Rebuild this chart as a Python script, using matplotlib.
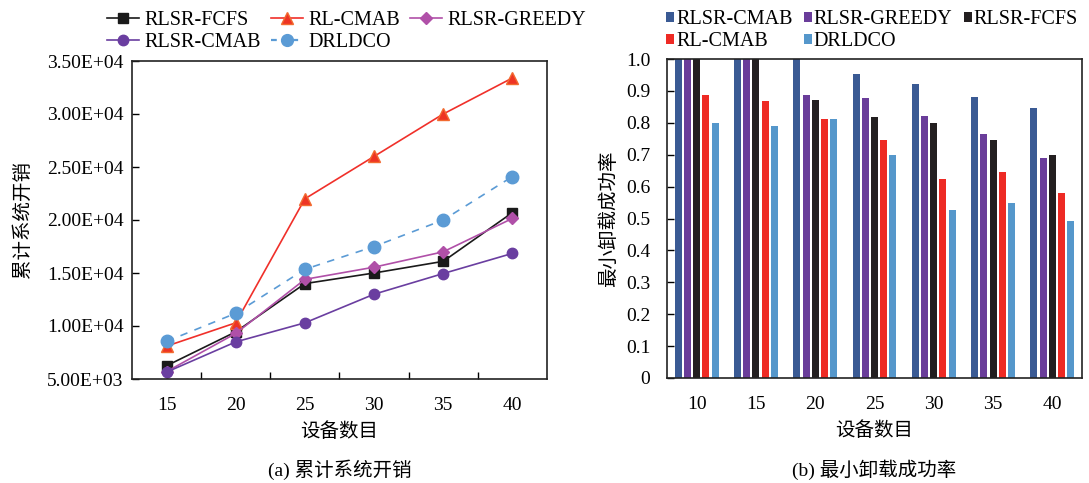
import numpy as np
import matplotlib
matplotlib.use("Agg")
import matplotlib.pyplot as plt
from matplotlib.ticker import FuncFormatter, MultipleLocator
from matplotlib.lines import Line2D

plt.rcParams['font.family'] = ['Liberation Serif', 'Noto Sans CJK SC']
plt.rcParams['axes.unicode_minus'] = False

# (a) cumulative system cost
devices_a = ["15", "20", "25", "30", "35", "40"]
fcfs_cost = [6250, 9450, 14000, 15000, 16100, 20700]
rlcmab_cost = [8100, 10300, 22000, 26000, 30000, 33400]
greedy_cost = [5700, 9300, 14400, 15550, 17000, 20150]
cmab_cost = [5650, 8500, 10300, 13000, 14950, 16850]
drldco_cost = [8550, 11200, 15350, 17500, 20000, 24100]

# (b) minimum offloading success rate
devices_b = ["10", "15", "20", "25", "30", "35", "40"]
cmab_rate = [1.0, 1.0, 1.0, 0.953, 0.922, 0.882, 0.847]
greedy_rate = [1.0, 1.0, 0.888, 0.879, 0.82, 0.765, 0.691]
fcfs_rate = [1.0, 1.0, 0.873, 0.819, 0.798, 0.747, 0.698]
rlcmab_rate = [0.888, 0.868, 0.811, 0.745, 0.625, 0.647, 0.58]
drldco_rate = [0.798, 0.789, 0.811, 0.699, 0.526, 0.548, 0.491]

fig = plt.figure(figsize=(10.89, 4.83), dpi=100)
W, H = 1089, 483

fs_tick = 14
fs_lab = 14
fs_leg = 14.5

# ---------- left: line chart ----------
ax1 = fig.add_axes([132 / W, (H - 379) / H, (547 - 132) / W, (379 - 61) / H])
x = np.arange(len(devices_a))
ax1.plot(x, fcfs_cost, color="#1a1a1a", lw=1.2, marker="s", ms=7.5,
         mfc="#1a1a1a", mec="#1a1a1a", label="RLSR-FCFS")
ax1.plot(x, rlcmab_cost, color="#f0302a", lw=1.2, marker="^", ms=8,
         mfc="#ee3424", mec="#f26a30", label="RL-CMAB")
ax1.plot(x, greedy_cost, color="#b050a8", lw=1.2, marker="D", ms=6,
         mfc="#b050a8", mec="#b050a8", label="RLSR-GREEDY")
ax1.plot(x, cmab_cost, color="#6a3ea0", lw=1.2, marker="o", ms=7.5,
         mfc="#6a3ea0", mec="#6a3ea0", label="RLSR-CMAB")
ax1.plot(x, drldco_cost, color="#5b9bd5", lw=1.2, ls=(0, (4.5, 4.5)), marker="o",
         ms=9, mfc="#5b9bd5", mec="#5b9bd5", label="DRLDCO")

ax1.set_xlim(-0.5, len(devices_a) - 0.5)
ax1.set_ylim(5000, 35000)
ax1.yaxis.set_major_locator(MultipleLocator(5000))
ax1.yaxis.set_major_formatter(FuncFormatter(lambda v, p: f"{v:.2E}"))
ax1.set_xticks(x)
ax1.set_xticklabels(devices_a)
ax1.set_xticks(np.arange(0.5, len(devices_a) - 0.5, 1), minor=True)
ax1.tick_params(axis="x", which="major", length=0, pad=13, labelsize=fs_tick)
ax1.tick_params(axis="x", which="minor", direction="in", length=5, width=1)
ax1.tick_params(axis="y", direction="in", length=5, width=1, pad=6, labelsize=fs_tick)
for s in ax1.spines.values():
    s.set_linewidth(1.2)
    s.set_color("#222222")
ax1.set_xlabel("设备数目", fontsize=fs_lab, labelpad=6)
ax1.set_ylabel("累计系统开销", fontsize=fs_lab, labelpad=11)

h, l = ax1.get_legend_handles_labels()
# legend handle for the dashed series: dashed line + dot on top
dash_part = Line2D([], [], color="#5b9bd5", lw=1.6, ls=(0, (2.6, 2.2)))
dot_part = Line2D([], [], ls="none", marker="o", ms=8.5, mfc="#5b9bd5", mec="#5b9bd5")
h[4] = (dash_part, dot_part)
order = [0, 3, 1, 4, 2]
fig.legend([h[i] for i in order], [l[i] for i in order], ncol=3,
           loc="upper left", bbox_to_anchor=(93 / W, 1 + 3 / H), frameon=False,
           fontsize=fs_leg, handlelength=1.6, handletextpad=0.25,
           columnspacing=0.5, labelspacing=0.15, borderpad=0.2)
fig.text(339.5 / W, 1 - 470 / H, "(a) 累计系统开销", ha="center", va="center",
         fontsize=fs_lab)

# ---------- right: bar chart ----------
ax2 = fig.add_axes([667 / W, (H - 378) / H, (1082 - 667) / W, (378 - 59) / H])
xb = np.arange(len(devices_b))
bar_series = [
    ("RLSR-CMAB", cmab_rate, "#3a5a94"),
    ("RLSR-GREEDY", greedy_rate, "#6a3d9a"),
    ("RLSR-FCFS", fcfs_rate, "#231f20"),
    ("RL-CMAB", rlcmab_rate, "#ee2a24"),
    ("DRLDCO", drldco_rate, "#5597cb"),
]
pitch = 0.155
bw = 0.118
for i, (name, vals, col) in enumerate(bar_series):
    ax2.bar(xb + (i - 2) * pitch, vals, width=bw, color=col, label=name)

ax2.set_xlim(-0.5, len(devices_b) - 0.5)
ax2.set_ylim(0, 1.0)
ax2.yaxis.set_major_locator(MultipleLocator(0.1))
ax2.yaxis.set_major_formatter(FuncFormatter(lambda v, p: "0" if abs(v) < 1e-9 else f"{v:.1f}"))
ax2.set_xticks(xb)
ax2.set_xticklabels(devices_b)
ax2.tick_params(axis="x", length=0, pad=13, labelsize=fs_tick)
ax2.tick_params(axis="y", direction="in", length=5, width=1, pad=12, labelsize=fs_tick)
for s in ax2.spines.values():
    s.set_linewidth(1.2)
    s.set_color("#222222")
ax2.set_xlabel("设备数目", fontsize=fs_lab, labelpad=6)
ax2.set_ylabel("最小卸载成功率", fontsize=fs_lab, labelpad=6)

h2, l2 = ax2.get_legend_handles_labels()
order2 = [0, 3, 1, 4, 2]
fig.legend([h2[i] for i in order2], [l2[i] for i in order2], ncol=3,
           loc="upper left", bbox_to_anchor=(652 / W, 1 + 4 / H), frameon=False,
           fontsize=fs_leg, handlelength=0.4, handleheight=0.4, handletextpad=0.1,
           columnspacing=0.55, labelspacing=0.15, borderpad=0.2)
fig.text(874.5 / W, 1 - 470 / H, "(b) 最小卸载成功率", ha="center", va="center",
         fontsize=fs_lab)

fig.savefig("out.png", dpi=100)
